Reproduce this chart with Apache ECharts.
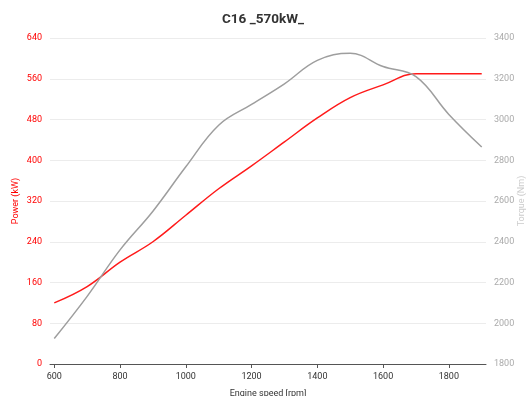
<!DOCTYPE html>
<html>
<head>
<meta charset="utf-8">
<script src="https://cdn.jsdelivr.net/npm/echarts@6/dist/echarts.min.js"></script>
<style>
  html, body { margin: 0; padding: 0; background: #fff; }
  #chart { width: 526px; height: 396px; }
</style>
</head>
<body>
<div id="chart"></div>
<script>
// engine speed (rpm) and the two curves
const speeds = [600, 700, 800, 900, 1000, 1100, 1200, 1300, 1400, 1500, 1600, 1700, 1800, 1900];
const power = [120, 152, 200, 240, 292, 344, 389, 436, 483, 523, 548, 570, 570, 570];
const torque = [1925, 2132, 2360, 2550, 2768, 2972, 3074, 3175, 3290, 3325, 3260, 3210, 3025, 2865];
const speedTicks = [600, 800, 1000, 1200, 1400, 1600, 1800];

const chart = echarts.init(document.getElementById('chart'));

const font = 'Roboto, sans-serif';
const plain = v => String(v);

chart.setOption({
    animation: false,
    title: {
        text: 'C16 _570kW_',
        left: 'center',
        top: 8,
        textStyle: {fontFamily: font, fontSize: 13.5, fontWeight: 'bold', color: '#333'}
    },
    grid: {left: 50, right: 40, top: 38, bottom: 32, outerBoundsMode: 'none', containLabel: false},
    xAxis: {
        type: 'value',
        min: 587,
        max: 1913,
        name: 'Engine speed [rpm]',
        nameLocation: 'middle',
        nameGap: 25,
        nameTextStyle: {fontFamily: font, fontSize: 9, color: '#333'},
        axisLine: {lineStyle: {color: '#555'}},
        axisTick: {show: true, length: 4, customValues: speedTicks, lineStyle: {color: '#555'}},
        axisLabel: {fontFamily: font, fontSize: 9, color: '#333', margin: 8, customValues: speedTicks, formatter: plain},
        splitLine: {show: false}
    },
    yAxis: [
        {
            type: 'value',
            min: 0,
            max: 640,
            interval: 80,
            name: 'Power (kW)',
            nameLocation: 'middle',
            nameGap: 30,
            nameMoveOverlap: false,
            nameTextStyle: {fontFamily: font, fontSize: 9, color: '#ff0000'},
            axisLine: {show: false},
            axisTick: {show: false},
            axisLabel: {fontFamily: font, fontSize: 9, color: '#ff0000', formatter: plain},
            splitLine: {lineStyle: {color: '#ececec'}}
        },
        {
            type: 'value',
            min: 1800,
            max: 3400,
            interval: 200,
            name: 'Torque (Nm)',
            nameLocation: 'middle',
            nameGap: 31,
            nameMoveOverlap: false,
            nameTextStyle: {fontFamily: font, fontSize: 9, color: '#ccc'},
            axisLine: {show: false},
            axisTick: {show: false},
            axisLabel: {fontFamily: font, fontSize: 9, color: '#aaa', formatter: plain},
            splitLine: {show: false}
        }
    ],
    series: [
        {
            name: 'Power',
            type: 'line',
            smooth: 0.4,
            symbol: 'none',
            yAxisIndex: 0,
            lineStyle: {color: '#ff1a1a', width: 1.5},
            data: speeds.map((s, i) => [s, power[i]])
        },
        {
            name: 'Torque',
            type: 'line',
            smooth: 0.4,
            symbol: 'none',
            yAxisIndex: 1,
            lineStyle: {color: '#9e9e9e', width: 1.5},
            data: speeds.map((s, i) => [s, torque[i]])
        }
    ]
});
</script>
</body>
</html>
